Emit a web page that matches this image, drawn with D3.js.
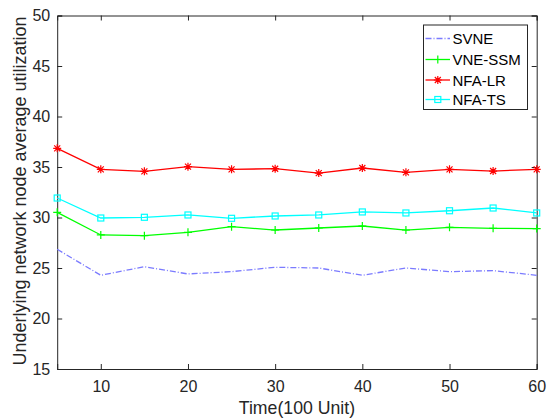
<!DOCTYPE html>
<html><head><meta charset="utf-8">
<script src="https://cdn.jsdelivr.net/npm/d3@7"></script>
<style>body{margin:0;background:#fff;}svg{display:block;font-family:"Liberation Sans",Arial,sans-serif;}</style>
</head><body>
<svg id="c" width="547" height="419"></svg>
<script>
const times = [5,10,15,20,25,30,35,40,45,50,55,60];
const svne   = [26.85,24.28,25.13,24.41,24.64,25.07,25.0,24.28,25.0,24.64,24.74,24.28];
const vnessm = [30.51,28.27,28.2,28.53,29.09,28.76,28.96,29.16,28.76,29.03,28.93,28.9];
const nfalr  = [36.85,34.77,34.57,35.03,34.77,34.83,34.4,34.9,34.47,34.77,34.6,34.77];
const nfats  = [31.93,29.95,30.02,30.25,29.92,30.15,30.25,30.55,30.45,30.67,30.94,30.45];
const xTicks = [10,20,30,40,50,60];
const yTicks = [15,20,25,30,35,40,45,50];
const seriesNames = ["SVNE","VNE-SSM","NFA-LR","NFA-TS"];

const series = [
  {name:seriesNames[0], vals:svne,   color:"#7b7bff", dash:"6,2,1,2", marker:null},
  {name:seriesNames[1], vals:vnessm, color:"#00ff00", dash:null, marker:"plus"},
  {name:seriesNames[2], vals:nfalr,  color:"#ff0000", dash:null, marker:"star"},
  {name:seriesNames[3], vals:nfats,  color:"#00ffff", dash:null, marker:"square"}
];

const L=57.2, R=536.7, T=15.5, B=369;
const svg = d3.select("#c");
const x = d3.scaleLinear().domain([5,60]).range([L,R]);
const y = d3.scaleLinear().domain([15,50]).range([B,T]);
const axCol = "#262626";

// axes
const gx = svg.append("g").attr("transform",`translate(0,${B})`)
  .call(d3.axisBottom(x).tickValues(xTicks).tickSize(-5).tickPadding(11.5));
const gxt = svg.append("g").attr("transform",`translate(0,${T})`)
  .call(d3.axisTop(x).tickValues(xTicks).tickSize(-5).tickFormat(""));
const gy = svg.append("g").attr("transform",`translate(${L},0)`)
  .call(d3.axisLeft(y).tickValues(yTicks).tickSize(-5).tickPadding(7));
const gyr = svg.append("g").attr("transform",`translate(${R},0)`)
  .call(d3.axisRight(y).tickValues(yTicks).tickSize(-5).tickFormat(""));
[gx,gxt,gy,gyr].forEach(g=>{
  g.select(".domain").attr("stroke",axCol).attr("stroke-width",1);
  g.selectAll(".tick line").attr("stroke",axCol);
  g.selectAll(".tick text").attr("fill",axCol).attr("font-size",16).attr("font-family","Liberation Sans, Arial, sans-serif");
});

function drawMarker(g, type, cx, cy, color){
  if(type==="plus"){
    g.append("path").attr("d",`M${cx-4},${cy}H${cx+4}M${cx},${cy-4}V${cy+4}`).attr("stroke",color).attr("stroke-width",1.2).attr("fill","none");
  } else if(type==="star"){
    const r=4;
    g.append("path").attr("d",`M${cx-r},${cy}H${cx+r}M${cx},${cy-r}V${cy+r}M${cx-r*0.75},${cy-r*0.75}L${cx+r*0.75},${cy+r*0.75}M${cx-r*0.75},${cy+r*0.75}L${cx+r*0.75},${cy-r*0.75}`).attr("stroke",color).attr("stroke-width",1.2).attr("fill","none");
  } else if(type==="square"){
    g.append("rect").attr("x",cx-3).attr("y",cy-3).attr("width",6).attr("height",6).attr("stroke",color).attr("stroke-width",1.2).attr("fill","none");
  }
}

const line = d3.line().x((d,i)=>x(times[i])).y(d=>y(d));
const plot = svg.append("g");
series.forEach(s=>{
  plot.append("path").attr("d",line(s.vals)).attr("fill","none").attr("stroke",s.color)
    .attr("stroke-width",1.3).attr("stroke-dasharray",s.dash);
  if(s.marker) s.vals.forEach((v,i)=>drawMarker(plot,s.marker,x(times[i]),y(v),s.color));
});

// legend
const lg = svg.append("g");
lg.append("rect").attr("x",423.5).attr("y",25).attr("width",104).attr("height",84.5)
  .attr("fill","#fff").attr("stroke",axCol).attr("stroke-width",1);
const lys=[38.5,59.5,80,99.5];
series.forEach((s,i)=>{
  lg.append("line").attr("x1",425.5).attr("x2",450).attr("y1",lys[i]).attr("y2",lys[i])
    .attr("stroke",s.color).attr("stroke-width",1.3).attr("stroke-dasharray",s.dash);
  if(s.marker) drawMarker(lg,s.marker,437.8,lys[i],s.color);
  lg.append("text").attr("x",452.5).attr("y",lys[i]+5.5).attr("font-size",15).attr("fill","#000").text(s.name);
});

// labels
svg.append("text").attr("x",(L+R)/2).attr("y",414).attr("text-anchor","middle")
  .attr("font-size",17.7).attr("fill",axCol).text("Time(100 Unit)");
svg.append("text").attr("transform",`translate(25.5,191) rotate(-90)`).attr("text-anchor","middle")
  .attr("font-size",18).attr("fill",axCol).text("Underlying network node average utilization");
</script>
</body></html>
